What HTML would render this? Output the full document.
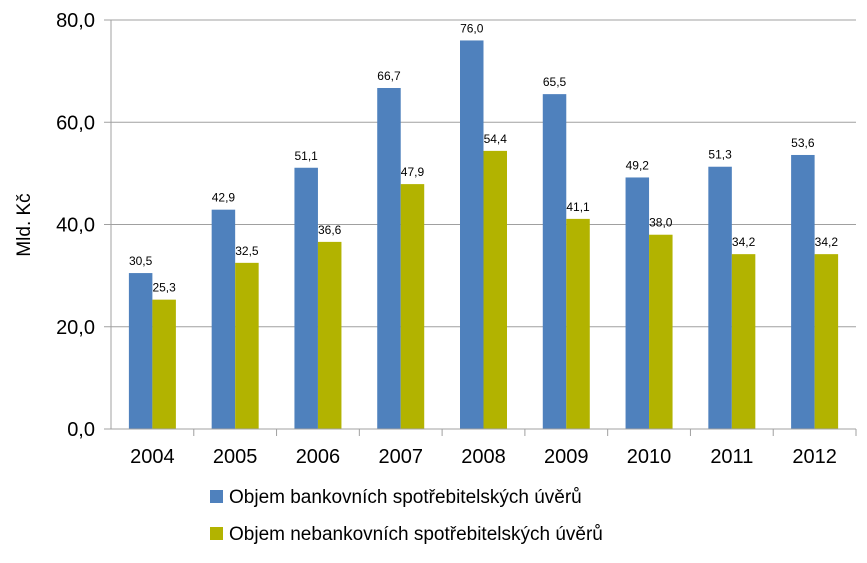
<!DOCTYPE html>
<html><head><meta charset="utf-8"><style>
body{margin:0;background:#fff;}
svg text{font-family:"Liberation Sans",sans-serif;}
</style></head><body>
<svg width="867" height="558" xmlns="http://www.w3.org/2000/svg">
<g id="grid"></g>
<g id="bars"></g>
<g id="axes"></g>
<text transform="translate(30,225) rotate(-90)" text-anchor="middle" font-size="19" fill="#000">Mld. Kč</text>
<g>
<g><rect x="210" y="490" width="13" height="13" fill="#4f81bd"/><text x="229" y="503" font-size="19">Objem bankovních spotřebitelských úvěrů</text></g>
<g><rect x="210" y="527" width="13" height="13" fill="#b2b300"/><text x="229" y="540" font-size="19">Objem nebankovních spotřebitelských úvěrů</text></g>
</g>
</svg>
<script>
const categories=["2004","2005","2006","2007","2008","2009","2010","2011","2012"];
const bankValues=[30.5,42.9,51.1,66.7,76.0,65.5,49.2,51.3,53.6];
const nonbankValues=[25.3,32.5,36.6,47.9,54.4,41.1,38.0,34.2,34.2];
const yTicks=[0,20,40,60,80];
const NS="http://www.w3.org/2000/svg";
const x0=111,x1=856,y0=429,yTop=20,yMax=80;
const cw=(x1-x0)/categories.length;
const bw=23.5;
function y(v){return y0-(v/yMax)*(y0-yTop);}
function mk(tag,attrs,parent){const e=document.createElementNS(NS,tag);for(const k in attrs)e.setAttribute(k,attrs[k]);parent.appendChild(e);return e;}
const grid=document.getElementById('grid'),bars=document.getElementById('bars'),axes=document.getElementById('axes');
yTicks.forEach(t=>{
  if(t>0){const l=mk('line',{x1:x0,x2:x1,y1:y(t),y2:y(t),stroke:'#a0a0a0','stroke-width':1},grid);
  
  }
  const tk=mk('line',{x1:x0-7,x2:x0,y1:y(t),y2:y(t),stroke:'#a0a0a0'},axes);
  
  
  const tx=mk('text',{x:x0-16,y:y(t)+7,'text-anchor':'end','font-size':20},axes);
  tx.textContent=t.toFixed(1).replace('.',',');
  
  
});
mk('line',{x1:x0,x2:x0,y1:yTop,y2:y0,stroke:'#a0a0a0'},axes);
mk('line',{x1:x0,x2:x1,y1:y0,y2:y0,stroke:'#a0a0a0'},axes);
categories.forEach((c,i)=>{
  const cx=x0+i*cw;
  const tk=mk('line',{x1:cx+cw,x2:cx+cw,y1:y0,y2:y0+7,stroke:'#a0a0a0'},axes);
  
  
  const lb=mk('text',{x:cx+cw/2,y:y0+34,'text-anchor':'middle','font-size':20},axes);
  lb.textContent=c;
  
  
  [[bankValues[i],'#4f81bd',0,'bar-bank-'+c],[nonbankValues[i],'#b2b300',1,'bar-nonbank-'+c]].forEach(([v,col,k,nm])=>{
    const bx=cx+cw/2-bw+k*bw;
    const r=mk('rect',{x:bx,y:y(v),width:bw,height:y0-y(v),fill:col},bars);
    
    
    const t=mk('text',{x:bx+bw/2,y:y(v)-8,'text-anchor':'middle','font-size':12},bars);
    t.textContent=v.toFixed(1).replace('.',',');
    
    
  });
});
</script>
</body></html>
